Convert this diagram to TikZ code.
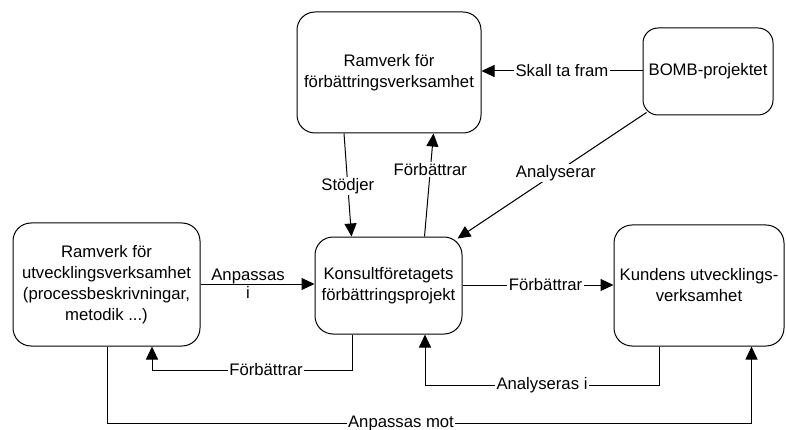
\documentclass[tikz,border=0pt]{standalone}
\usepackage{fontspec}
\setmainfont{Liberation Sans}
\usetikzlibrary{arrows.meta,calc}
\begin{document}
\begin{tikzpicture}[x=1pt,y=-1pt,
  font=\fontsize{16.7}{21}\selectfont,
  box/.style={draw, line width=1pt, rounded corners=18pt, align=center, inner sep=0pt},
  arr/.style={line width=1pt, -{Triangle[length=13pt,width=12pt]}},
  lab/.style={fill=white, inner xsep=2pt, inner ysep=1pt},
  plainlab/.style={inner sep=0pt}]
\useasboundingbox (0,0) rectangle (786,430);
\fill[white] (0,0) rectangle (786,430);

\node[box, minimum width=184pt, minimum height=121pt] (top) at (389,72.5) {Ramverk för\\förbättringsverksamhet};
\node[box, rounded corners=15pt, minimum width=130pt, minimum height=87pt] (bomb) at (708,71.5) {BOMB-projektet};
\node[box, minimum width=187pt, minimum height=123pt] (left) at (106.5,284.5) {Ramverk för\\utvecklingsverksamhet\\(processbeskrivningar,\\metodik ...)};
\node[box, minimum width=147pt, minimum height=97pt] (mid) at (388.5,285.5) {Konsultföretagets\\förbättringsprojekt};
\node[box, minimum width=170pt, minimum height=121pt] (right) at (699,285.5) {Kundens utvecklings-\\verksamhet};

% Skall ta fram
\draw[arr] (bomb.west |- 0,71) -- (top.east |- 0,71)
  node[lab, pos=0.5] (l1) {Skall ta fram};

% Stödjer
\draw[arr] ([xshift=-45pt]top.south) -- ([xshift=-37pt]mid.north)
  node[lab, pos=0.51] (l2) {Stödjer};

% Förbättrar (up)
\draw[arr] ([xshift=36pt]mid.north) -- ([xshift=44.5pt]top.south)
  node[lab, pos=0.65] (l3) {Förbättrar};

% Analyserar
\coordinate (bombc) at ([shift={(4,-3)}]bomb.south west);
\coordinate (midc) at ([shift={(-5,2)}]mid.north east);
\draw[arr] (bombc) -- (midc) node[lab, pos=0.48] (l4) {Analyserar};

% Anpassas i
\draw[arr] (left.east |- 0,284) -- (mid.west |- 0,284);
\node[plainlab, anchor=base] (l5a) at (248,280) {Anpassas};
\node[plainlab, anchor=base] (l5b) at (248,298) {i};

% Förbättrar (right)
\draw[arr] (mid.east |- 0,285) -- (right.west |- 0,285)
  node[lab, pos=0.55] (l6) {Förbättrar};

% Förbättrar (bottom, back to left)
\coordinate (fa) at ([xshift=-36pt]mid.south);
\coordinate (fb) at ([xshift=45.5pt]left.south);
\draw[arr] (fa) -- (fa |- 0,370) -- (fb |- 0,370) -- (fb);
\node[lab, inner xsep=1.5pt] (l7) at (266,370) {Förbättrar\hspace{5pt}};

% Analyseras i
\coordinate (aa) at (right.south -| 659.5,0);
\coordinate (ab) at (mid.south -| 425,0);
\draw[arr] (aa) -- (aa |- 0,385) -- (ab |- 0,385) -- (ab);
\node[lab, inner xsep=1.5pt] (l8) at (542,385) {Analyseras i\hspace{5pt}};

% Anpassas mot
\coordinate (ma) at (left.south -| 107,0);
\coordinate (mb) at (right.south -| 751.5,0);
\draw[arr] (ma) -- (ma |- 0,423) -- (mb |- 0,423) -- (mb);
\node[lab, inner xsep=1.5pt] (l9) at (401,423) {Anpassas mot\hspace{5pt}};
\end{tikzpicture}
\end{document}
